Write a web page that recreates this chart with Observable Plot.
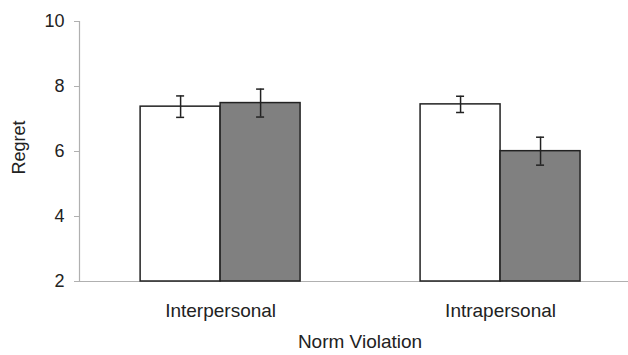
<!DOCTYPE html>
<html>
<head>
<meta charset="utf-8">
<script src="https://cdn.jsdelivr.net/npm/d3@7"></script>
<script src="https://cdn.jsdelivr.net/npm/@observablehq/plot@0.6"></script>
<style>
  html, body { margin: 0; padding: 0; background: #fff; }
  #chart svg { display: block; }
</style>
</head>
<body>
<div id="chart"></div>
<script>
const groups = ["Interpersonal", "Intrapersonal"];
const conditions = ["Condition 1", "Condition 2"];
const meansCondition1 = [7.38, 7.45];
const meansCondition2 = [7.49, 6.01];
const errorsCondition1 = [0.33, 0.25];
const errorsCondition2 = [0.43, 0.43];
const yTicks = [2, 4, 6, 8, 10];
const xLabel = "Norm Violation";
const yLabel = "Regret";

const means = [meansCondition1, meansCondition2];
const errors = [errorsCondition1, errorsCondition2];
const barW = 0.2857;
const capHalf = 0.0143;
const xMin = -0.504, xMax = 1.457;

const rows = [];
groups.forEach((g, gi) => {
  conditions.forEach((c, ci) => {
    rows.push({
      group: g, gi, cond: c, ci,
      x1: gi + (ci - 1) * barW,
      x2: gi + ci * barW,
      xc: gi + (ci - 0.5) * barW,
      mean: means[ci][gi],
      lo: means[ci][gi] - errors[ci][gi],
      hi: means[ci][gi] + errors[ci][gi]
    });
  });
});

const font = "'Liberation Sans', Arial, sans-serif";
const chart = Plot.plot({
  width: 628,
  height: 355,
  marginLeft: 79,
  marginRight: 0,
  marginTop: 21,
  marginBottom: 74,
  style: { fontFamily: font, fontSize: "18px", color: "#222", background: "#fff" },
  x: { type: "linear", domain: [xMin, xMax], axis: null },
  y: { domain: [2, 10], axis: null },
  color: { domain: conditions, range: ["#ffffff", "#808080"] },
  marks: [
    Plot.ruleY([2], { stroke: "#b0b0b0", strokeWidth: 1.2 }),
    Plot.ruleX([xMin], { y1: 2, y2: 10, stroke: "#b0b0b0", strokeWidth: 1.2 }),
    Plot.axisY({ ticks: yTicks, tickSize: 5, tickPadding: 10, stroke: "#b0b0b0", fill: "#222", fontSize: 18, label: null }),
    Plot.rectY(rows, { x1: "x1", x2: "x2", y1: 2, y2: "mean", fill: "cond", stroke: "#222", strokeWidth: 1.5 }),
    Plot.ruleX(rows, { x: "xc", y1: "lo", y2: "hi", stroke: "#222", strokeWidth: 1.5 }),
    Plot.ruleY(rows, { y: "lo", x1: d => d.xc - capHalf, x2: d => d.xc + capHalf, stroke: "#222", strokeWidth: 1.5 }),
    Plot.ruleY(rows, { y: "hi", x1: d => d.xc - capHalf, x2: d => d.xc + capHalf, stroke: "#222", strokeWidth: 1.5 }),
    Plot.text(groups, { x: (d, i) => i, y: 2, text: d => d, dy: 29, fill: "#222", fontSize: 19 }),
    Plot.text([xLabel], { frameAnchor: "bottom", textAnchor: "middle", dx: 6, dy: 66, fill: "#222", fontSize: 19 }),
    Plot.text([yLabel], { frameAnchor: "left", textAnchor: "middle", dx: -60, dy: -4, rotate: -90, fill: "#222", fontSize: 18 })
  ]
});
document.getElementById("chart").appendChild(chart);
</script>
</body>
</html>
